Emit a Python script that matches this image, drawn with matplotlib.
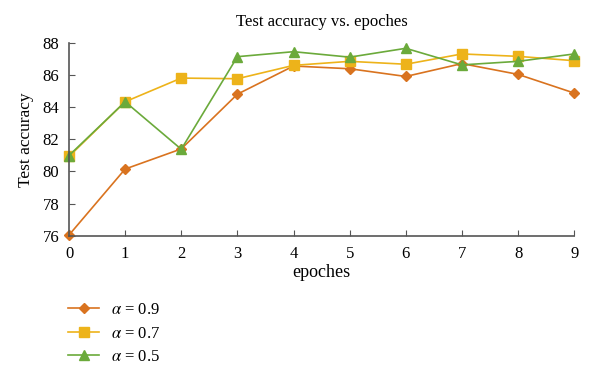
import matplotlib
matplotlib.use("Agg")
import matplotlib.pyplot as plt

epochs = [0, 1, 2, 3, 4, 5, 6, 7, 8, 9]
acc_09 = [76.05, 80.15, 81.4, 84.8, 86.55, 86.38, 85.9, 86.7, 86.03, 84.87]
acc_07 = [80.93, 84.33, 85.8, 85.76, 86.59, 86.84, 86.66, 87.3, 87.15, 86.88]
acc_05 = [80.99, 84.33, 81.38, 87.13, 87.44, 87.1, 87.65, 86.62, 86.84, 87.3]
labels = [r"$\alpha$ = 0.9", r"$\alpha$ = 0.7", r"$\alpha$ = 0.5"]

plt.rcParams['font.family'] = ['Liberation Serif', 'DejaVu Serif']
plt.rcParams['mathtext.fontset'] = 'stix'

fig = plt.figure(figsize=(6, 3.81), dpi=100)
ax = fig.add_axes([0.115, 0.381, 0.842, 0.507])

ax.plot(epochs, acc_09, color='#D9731F', marker='D', markersize=5.5, lw=1.2, label=labels[0])
ax.plot(epochs, acc_07, color='#EDB31A', marker='s', markersize=6.5, lw=1.2, label=labels[1])
ax.plot(epochs, acc_05, color='#6BAA3B', marker='^', markersize=7, lw=1.2, label=labels[2])

ax.set_xlim(0, 9)
ax.set_ylim(76, 88)
ax.set_xticks(epochs)
ax.set_yticks([76, 78, 80, 82, 84, 86, 88])
ax.tick_params(direction='in', length=4, color='#555555', labelsize=12, pad=7)
for s in ['top', 'right']:
    ax.spines[s].set_visible(False)
for s in ['left', 'bottom']:
    ax.spines[s].set_color('#555555')
    ax.spines[s].set_linewidth(1.2)

ax.set_title("Test accuracy vs. epoches", fontsize=12, pad=12)
ax.set_xlabel("epoches", fontsize=13, labelpad=2)
ax.set_ylabel("Test accuracy", fontsize=12.5, labelpad=6)

for ln in ax.lines:
    ln.set_clip_on(False)

ax.legend(loc='upper left', bbox_to_anchor=(0.113, 0.207), bbox_transform=fig.transFigure,
          frameon=False, fontsize=12, handlelength=1.9, labelspacing=0.45,
          handletextpad=0.72, borderaxespad=0, borderpad=0)

fig.savefig("out.png", dpi=100)
